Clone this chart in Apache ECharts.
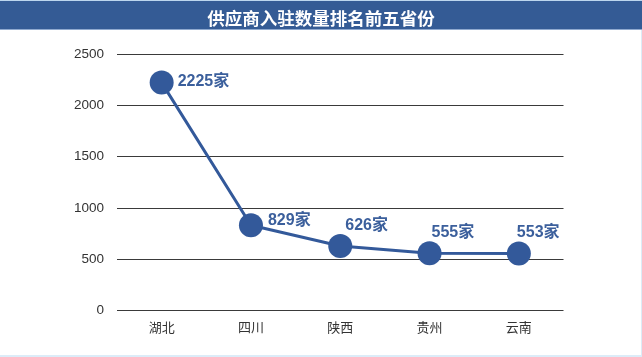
<!DOCTYPE html>
<html>
<head>
<meta charset="utf-8">
<script src="https://cdn.jsdelivr.net/npm/echarts@6/dist/echarts.min.js"></script>
<style>
html,body{margin:0;padding:0;background:#fff;}
#c{width:642px;height:357px;}
</style>
</head>
<body>
<div id="c"></div>
<script>
var titleText = '供应商入驻数量排名前五省份';
var categories = ['湖北', '四川', '陕西', '贵州', '云南'];
var values = [2225, 829, 626, 555, 553];
var unit = '家';
var yTicks = [0, 500, 1000, 1500, 2000, 2500];

var labelOffsets = [[0, -1], [1, -5], [-11, -20], [-14, -21], [-18, -21]];
var blue = '#33599a';
var font = "'Liberation Sans', Arial, 'Noto Sans CJK SC', sans-serif";

var chart = echarts.init(document.getElementById('c'), null, {renderer: 'canvas'});
chart.setOption({
  backgroundColor: '#ffffff',
  animation: false,
  graphic: [
    {type: 'rect', shape: {x: 0, y: 0, width: 642, height: 1}, style: {fill: '#bcd6ee'}, z: 0},
    {type: 'rect', shape: {x: 0, y: 1, width: 642, height: 28}, style: {fill: '#345b95'}, z: 0},
    {type: 'rect', shape: {x: 0, y: 29, width: 642, height: 1}, style: {fill: '#8fa9cf'}, z: 0},
    {type: 'rect', shape: {x: 0, y: 355, width: 642, height: 2}, style: {fill: '#dcecf8'}, z: 0},
    {type: 'rect', shape: {x: 641, y: 30, width: 1, height: 327}, style: {fill: '#dcecf8'}, z: 0}
  ],
  title: {
    text: titleText,
    left: 'center',
    top: 5,
    textStyle: {color: '#ffffff', fontSize: 17.5, fontWeight: 'bold', fontFamily: "'Noto Sans CJK SC', sans-serif"}
  },
  grid: {left: 117, right: 78.5, top: 54.5, bottom: 47},
  xAxis: {
    type: 'category',
    data: categories,
    boundaryGap: true,
    axisLine: {show: false},
    axisTick: {show: false},
    axisLabel: {color: '#333', fontSize: 13, margin: 11, fontFamily: "'Noto Sans CJK SC', sans-serif"}
  },
  yAxis: {
    type: 'value',
    min: yTicks[0],
    max: yTicks[yTicks.length - 1],
    interval: yTicks[1] - yTicks[0],
    axisLine: {show: false},
    axisTick: {show: false},
    axisLabel: {color: '#333', fontSize: 13.5, margin: 13, fontFamily: font, formatter: function (v) { return String(v); }},
    splitLine: {lineStyle: {color: '#3a3a3a', width: 1.2}}
  },
  series: [{
    type: 'line',
    data: values.map(function (v, i) {
      return {value: v, label: {offset: labelOffsets[i]}};
    }),
    symbol: 'circle',
    symbolSize: 24,
    lineStyle: {color: blue, width: 3},
    itemStyle: {color: blue},
    label: {
      show: true,
      position: 'right',
      distance: 4,
      color: '#3b5f9c',
      fontSize: 16,
      fontWeight: 'bold',
      fontFamily: font,
      formatter: function (p) { return p.value + unit; }
    }
  }]
});
</script>
</body>
</html>
